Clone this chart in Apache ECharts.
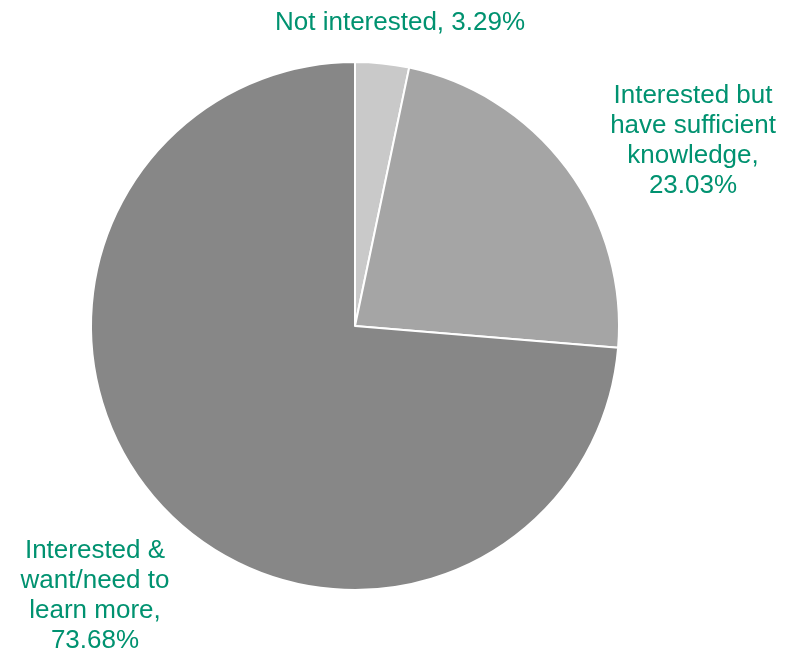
<!DOCTYPE html>
<html><head><meta charset="utf-8">
<script src="https://cdn.jsdelivr.net/npm/echarts@6/dist/echarts.min.js"></script>
<style>html,body{margin:0;padding:0;background:#fff}#c{width:804px;height:652px}</style>
</head><body><div id="c"></div>
<script>
const categories = ['Not interested', 'Interested but\nhave sufficient\nknowledge', 'Interested &\nwant/need to\nlearn more'];
const values = [3.29, 23.03, 73.68];
const colors = ['#c9c9c9', '#a5a5a5', '#878787'];
const labelSep = [', ', ',\n', ',\n'];
const labelPos = [[400, 23], [693, 141], [95, 596]];

const chart = echarts.init(document.getElementById('c'), null, {renderer: 'canvas'});
chart.setOption({
  animation: false,
  series: [{
    type: 'pie',
    center: [355, 326],
    radius: [0, 264],
    startAngle: 90,
    clockwise: true,
    data: categories.map((c, i) => ({name: c, value: values[i], itemStyle: {color: colors[i]}})),
    itemStyle: {borderColor: '#fff', borderWidth: 2},
    label: {
      show: true,
      position: 'outside',
      formatter: p => p.name + labelSep[p.dataIndex] + values[p.dataIndex].toFixed(2) + '%',
      color: '#009270',
      fontFamily: 'Liberation Sans, Arial, sans-serif',
      fontSize: 26,
      lineHeight: 30,
      align: 'center',
      overflow: 'none',
      width: 400
    },
    labelLine: {show: false},
    labelLayout: p => ({x: labelPos[p.dataIndex][0], y: labelPos[p.dataIndex][1], align: 'center', verticalAlign: 'middle'}),
    emphasis: {disabled: true}
  }]
});
</script></body></html>
